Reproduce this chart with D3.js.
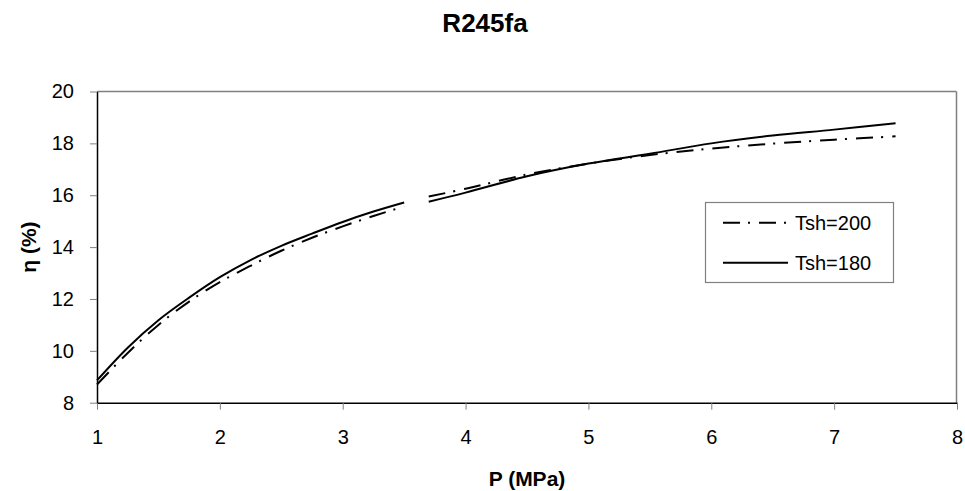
<!DOCTYPE html>
<html>
<head>
<meta charset="utf-8">
<script src="https://cdn.jsdelivr.net/npm/d3@7"></script>
<style>
  html, body { margin: 0; padding: 0; background: #fff; }
  svg { display: block; font-family: Arial, "Liberation Sans", sans-serif; }
</style>
</head>
<body>
<svg id="chart" width="965" height="491"></svg>
<script>
// ---- data ----
const title = "R245fa";
const xLabel = "P (MPa)";
const yLabel = "η (%)";
const pressure = [1.0, 1.25, 1.5, 1.75, 2.0, 2.25, 2.5, 2.75, 3.0, 3.25, 3.5, 3.6, 3.7, 4.0, 4.5, 5.0, 5.5, 6.0, 6.5, 7.0, 7.5];
const tsh200 = [8.70, 9.92, 11.00, 11.90, 12.65, 13.28, 13.86, 14.36, 14.80, 15.20, 15.57, null, 15.95, 16.25, 16.80, 17.22, 17.55, 17.80, 17.99, 18.14, 18.27];
const tsh180 = [8.86, 10.12, 11.18, 12.05, 12.84, 13.50, 14.05, 14.52, 14.97, 15.37, 15.72, null, 15.75, 16.10, 16.73, 17.22, 17.60, 18.00, 18.30, 18.53, 18.78];
const seriesNames = ["Tsh=200", "Tsh=180"];
const xTicks = [1, 2, 3, 4, 5, 6, 7, 8];
const yTicks = [8, 10, 12, 14, 16, 18, 20];

// ---- layout ----
const svg = d3.select("#chart");
const pLeft = 97, pRight = 957, pTop = 91.5, pBottom = 402.7;
const x = d3.scaleLinear().domain([1, 8]).range([pLeft, pRight]);
const y = d3.scaleLinear().domain([8, 20]).range([pBottom, pTop]);

// plot area border (top/right grey)
svg.append("line").attr("x1", pLeft).attr("x2", pRight - 0.5).attr("y1", pTop).attr("y2", pTop)
  .attr("stroke", "#808080").attr("stroke-width", 1.5);
svg.append("line").attr("x1", pRight - 0.5).attr("x2", pRight - 0.5).attr("y1", pTop).attr("y2", pBottom)
  .attr("stroke", "#808080").attr("stroke-width", 1.5);

// axes
const xAxis = d3.axisBottom(x).tickValues(xTicks).tickFormat(d3.format("d")).tickSizeInner(7).tickSizeOuter(0).tickPadding(20);
const gx = svg.append("g").attr("transform", `translate(0,${pBottom})`).call(xAxis);
const yAxis = d3.axisLeft(y).tickValues(yTicks).tickFormat(d3.format("d")).tickSizeInner(7).tickSizeOuter(0).tickPadding(16);
const gy = svg.append("g").attr("transform", `translate(${pLeft},0)`).call(yAxis);

[gx, gy].forEach(g => {
  g.select(".domain").attr("stroke", "#000").attr("stroke-width", 1.5);
  g.selectAll(".tick line").attr("stroke", "#808080").attr("stroke-width", 1);
  g.selectAll(".tick text").attr("fill", "#000").style("font-size", "20px")
    .style("font-family", "Arial, 'Liberation Sans', sans-serif");
});

// titles
svg.append("text").attr("x", 485).attr("y", 32).attr("text-anchor", "middle")
  .style("font-size", "26px").style("font-weight", "bold").text(title);
svg.append("text").attr("x", (pLeft + pRight) / 2).attr("y", 486).attr("text-anchor", "middle")
  .style("font-size", "21px").style("font-weight", "bold").text(xLabel);
svg.append("text").attr("transform", `translate(36,${(pTop + pBottom) / 2}) rotate(-90)`)
  .attr("text-anchor", "middle").style("font-size", "21px").style("font-weight", "bold").text(yLabel);

// lines
const line = d3.line()
  .defined(d => d[1] != null)
  .x(d => x(d[0])).y(d => y(d[1]))
  .curve(d3.curveCatmullRom.alpha(0.5));

const dashPattern = "17,8,2,9";
const data200 = pressure.map((p, i) => [p, tsh200[i]]);
const data180 = pressure.map((p, i) => [p, tsh180[i]]);

svg.append("path").attr("d", line(data200)).attr("fill", "none")
  .attr("stroke", "#000").attr("stroke-width", 2).attr("stroke-dasharray", dashPattern);
svg.append("path").attr("d", line(data180)).attr("fill", "none")
  .attr("stroke", "#000").attr("stroke-width", 2);

// legend
const lg = svg.append("g");
lg.append("rect").attr("x", 705.5).attr("y", 202.5).attr("width", 188).attr("height", 80)
  .attr("fill", "#fff").attr("stroke", "#808080").attr("stroke-width", 1.2);
const rows = [
  { name: seriesNames[0], dash: dashPattern, cy: 222.7 },
  { name: seriesNames[1], dash: null, cy: 262.7 }
];
rows.forEach(r => {
  lg.append("line").attr("x1", 723).attr("x2", 788).attr("y1", r.cy).attr("y2", r.cy)
    .attr("stroke", "#000").attr("stroke-width", 2)
    .attr("stroke-dasharray", r.dash);
  lg.append("text").attr("x", 795).attr("y", r.cy).attr("dy", "0.35em")
    .style("font-size", "20px").text(r.name);
});
</script>
</body>
</html>
